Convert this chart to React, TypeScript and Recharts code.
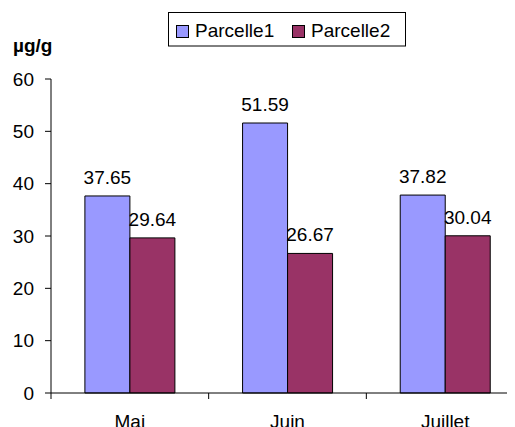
import React from 'react';
import { BarChart, Bar, XAxis, YAxis, LabelList } from 'recharts';

const months = ['Mai', 'Juin', 'Juillet'];
const seriesNames = ['Parcelle1', 'Parcelle2'];
const parcelle1 = [37.65, 51.59, 37.82];
const parcelle2 = [29.64, 26.67, 30.04];
const yTicks = [0, 10, 20, 30, 40, 50, 60];
const unitLabel = 'µg/g';

const colors = ['#9999FF', '#993366'];
const FONT = '"Liberation Sans", Arial, sans-serif';
const FONT_SIZE = 19;
const LABEL_GAP = 22;

const data = months.map((m, i) => ({ month: m, p1: parcelle1[i], p2: parcelle2[i] }));

const MonthTick = (props: any) => {
  const { x, y, payload, width, visibleTicksCount, index } = props;
  const count = visibleTicksCount || months.length;
  const w = typeof width === 'number' ? width : 472;
  const half = w / count / 2;
  const axisY = y - LABEL_GAP;
  return (
    <g>
      <line x1={x - half} x2={x - half} y1={axisY} y2={axisY + 6} stroke="#000" />
      {index === count - 1 && (
        <line x1={x + half} x2={x + half} y1={axisY} y2={axisY + 6} stroke="#000" />
      )}
      <text x={x} y={y} dy="0.71em" textAnchor="middle" fontSize={FONT_SIZE} fontFamily={FONT} fill="#000">
        {payload.value}
      </text>
    </g>
  );
};

export default function App() {
  return (
    <div style={{ position: 'relative', width: 507, height: 419, overflow: 'hidden', fontFamily: FONT }}>
      <BarChart
        width={520}
        height={420}
        data={data}
        margin={{ top: 71, right: 4, bottom: 0, left: 0 }}
        barCategoryGap="21.5%"
        barGap={0}
      >
        <XAxis
          dataKey="month"
          height={35}
          interval={0}
          axisLine={{ stroke: '#000' }}
          tickLine={false}
          tickSize={0}
          tickMargin={LABEL_GAP}
          tick={<MonthTick />}
        />
        <YAxis
          width={43}
          domain={[0, 60]}
          ticks={yTicks}
          interval={0}
          axisLine={{ stroke: '#000' }}
          tickLine={{ stroke: '#000' }}
          tickSize={6}
          tickMargin={11}
          tick={{ fill: '#000', fontSize: FONT_SIZE, fontFamily: FONT }}
        />
        <Bar dataKey="p1" name={seriesNames[0]} fill={colors[0]} stroke="#000" strokeWidth={1} isAnimationActive={false}>
          <LabelList dataKey="p1" position="top" offset={12} fill="#000" fontSize={FONT_SIZE} fontFamily={FONT} />
        </Bar>
        <Bar dataKey="p2" name={seriesNames[1]} fill={colors[1]} stroke="#000" strokeWidth={1} isAnimationActive={false}>
          <LabelList dataKey="p2" position="top" offset={12} fill="#000" fontSize={FONT_SIZE} fontFamily={FONT} />
        </Bar>
      </BarChart>
      <svg width={507} height={419} style={{ position: 'absolute', left: 0, top: 0, pointerEvents: 'none' }}>
        <text x={5} y={44} fontSize={FONT_SIZE} fontWeight="bold" fontFamily={FONT} fill="#000">{unitLabel}</text>
        <rect x={160.5} y={4.5} width={237} height={33.5} fill="#fff" stroke="#000" />
        {seriesNames.map((name, i) => (
          <g key={name}>
            <rect x={168.5 + i * 116} y={17.5} width={12} height={12} fill={colors[i]} stroke="#000" />
            <text x={187 + i * 116} y={29} fontSize={FONT_SIZE} fontFamily={FONT} fill="#000">{name}</text>
          </g>
        ))}
      </svg>
    </div>
  );
}
